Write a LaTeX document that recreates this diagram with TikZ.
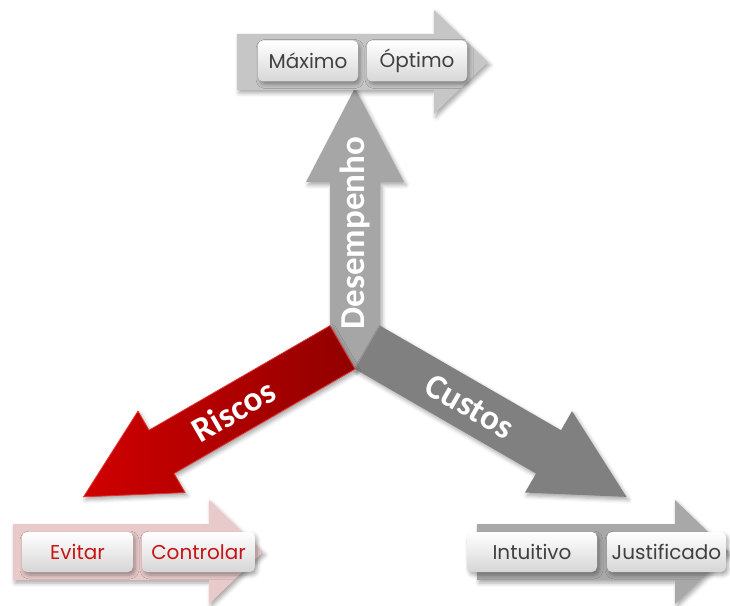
\documentclass[tikz,border=0pt]{standalone}
\usepackage{fontspec}
\newfontfamily\labelfont{Carlito}
\newfontfamily\stepfont{Poppins}
\usetikzlibrary{calc,shadows.blur}

\definecolor{upgray}{RGB}{166,166,166}
\definecolor{costgray}{RGB}{128,128,128}
\definecolor{risklight}{RGB}{208,0,0}
\definecolor{riskdark}{RGB}{145,0,0}
\definecolor{riskedge}{RGB}{228,50,50}
\definecolor{topbar}{RGB}{198,198,198}
\definecolor{pinkbar}{RGB}{233,202,202}
\definecolor{graybar}{RGB}{168,168,168}
\definecolor{boxtext}{RGB}{64,64,64}
\definecolor{redtext}{RGB}{200,20,20}

\begin{document}
\begin{tikzpicture}[x=1pt,y=1pt,
  softshadow/.style={blur shadow={shadow xshift=2pt,shadow yshift=-3pt,
      shadow blur radius=4pt,shadow opacity=35}},
  stepbox/.style={rounded corners=5pt, top color=white, bottom color=gray!32,
      minimum height=41pt, inner sep=0pt,
      font=\stepfont\fontsize{20}{23}\selectfont, text=boxtext, softshadow},
  axislabel/.style={text=white, inner sep=0pt,
      font=\labelfont\bfseries\fontsize{35}{40}\selectfont},
]
\useasboundingbox (0,0) rectangle (730,605);

% hub where the three shafts meet
\coordinate (P) at (355,236);

% upward arrow (Desempenho)
\fill[upgray, softshadow]
  (P) -- ($(P)+(60:50)$) -- (380,423) -- (404,423) -- (355,517)
  -- (306,423) -- (330,423) -- ($(P)+(120:50)$) -- cycle;

% lower right arrow (Custos)
\fill[costgray, softshadow]
  (P) -- ($(P)+(-30:209)$) -- ($(P)+(-30:209)+(240:22)$)
  -- ($(P)+(60:25)+(-30:299)$) -- ($(P)+(-30:209)+(60:72)$)
  -- ($(P)+(-30:209)+(60:50)$) -- ($(P)+(60:50)$) -- cycle;

% lower left arrow (Riscos)
\path[draw=riskedge, line width=0.8pt, left color=risklight, right color=riskdark, softshadow]
  (P) -- ($(P)+(210:209)$) -- ($(P)+(210:209)+(300:22)$)
  -- ($(P)+(120:25)+(210:299)$) -- ($(P)+(210:209)+(120:72)$)
  -- ($(P)+(210:209)+(120:50)$) -- ($(P)+(120:50)$) -- cycle;

% axis labels
\node[axislabel, rotate=90] (desempenho) at (355,372) {Desempenho};
\node[axislabel, rotate=-30] (custos) at ($(P)+(60:25)+(-30:118)$) {Custos};
\node[axislabel, rotate=30] (riscos) at ($(P)+(120:25)+(210:126)$) {Riscos};

% scale bars at the arrow ends
\fill[topbar, softshadow]
  (237,515) -- (434,515) -- (434,491) -- (488,543) -- (434,595)
  -- (434,571) -- (237,571) -- cycle;
\fill[pinkbar, softshadow]
  (13,25) -- (209,25) -- (209,1) -- (263,53) -- (209,105)
  -- (209,81) -- (13,81) -- cycle;
\fill[graybar, softshadow]
  (477,25) -- (675,25) -- (675,1) -- (729,53) -- (675,105)
  -- (675,81) -- (477,81) -- cycle;

% steps on each bar
\node[stepbox, minimum width=100pt] (maximo) at (308,544) {Máximo};
\node[stepbox, minimum width=100pt] (optimo) at (417,544) {Óptimo};
\node[stepbox, minimum width=111pt, minimum height=40pt, text=redtext] (evitar) at (77.5,53) {Evitar};
\node[stepbox, minimum width=113pt, minimum height=40pt, text=redtext] (controlar) at (198.5,53) {Controlar};
\node[stepbox, minimum width=130pt, minimum height=40pt] (intuitivo) at (532,53) {Intuitivo};
\node[stepbox, minimum width=119pt, minimum height=40pt] (justificado) at (666.5,53) {Justificado};
\end{tikzpicture}
\end{document}
